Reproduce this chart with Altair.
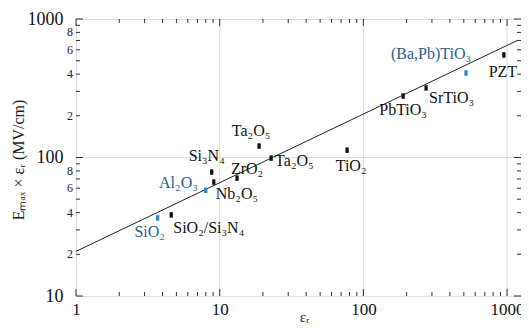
import altair as alt
import pandas as pd

# ---- data ----
materials = ["SiO₂", "SiO₂/Si₃N₄", "Al₂O₃", "Si₃N₄", "Nb₂O₅", "ZrO₂", "Ta₂O₅",
             "Ta₂O₅", "TiO₂", "PbTiO₃", "SrTiO₃", "(Ba,Pb)TiO₃", "PZT"]
eps_r = [3.7, 4.6, 8.0, 8.8, 9.1, 13.2, 18.8, 22.8, 77, 189, 273, 518, 950]
emax_eps = [36.6, 38.5, 58, 78.5, 66.5, 71, 121, 99, 113, 278, 318, 407, 550]
highlight = [True, False, True, False, False, False, False, False, False, False, False, True, False]

fit_x = [1, 1180]
fit_y = [21, 700]

x_major = [1, 10, 100, 1000]
x_minor = [2, 3, 4, 5, 6, 7, 8, 9, 20, 30, 40, 50, 60, 70, 80, 90,
           200, 300, 400, 500, 600, 700, 800, 900]
y_major = [10, 100, 1000]
y_minor = [20, 30, 40, 50, 60, 70, 80, 90, 200, 300, 400, 500, 600, 700, 800, 900]
y_minor_labelled = [20, 40, 60, 80, 200, 400, 600, 800]
y_minor_text = ["2", "4", "6", "8", "2", "4", "6", "8"]

# ---- styles ----
W, H = 445, 277
FONT = "Liberation Serif"
BLUE_TXT = "#1d5f8e"
BLUE_PT = "#2f86c6"
# label placement (dx, dy, align) per material, pixels
label_style = [
    (-8, 14, "center"), (2, 13, "left"), (-8, -7, "right"), (-5, -16, "center"),
    (2, 12, "left"), (10, -9, "center"), (-8, -15, "center"), (4, 3, "left"),
    (4, 16, "center"), (0, 14, "center"), (3, 10, "left"), (5, -19, "right"),
    (-1, 17, "center"),
]

xscale = alt.Scale(type="log", domain=[1, 1250], nice=False)
yscale = alt.Scale(type="log", domain=[10, 1000], nice=False)
xaxis = alt.Axis(values=x_major, labelFontSize=17, labelFont=FONT,
                 labelColor="#111", ticks=False, domain=False, grid=False,
                 labelFlush=False, labelOverlap=False, labelPadding=5,
                 title=None, format="d")
yaxis = alt.Axis(values=y_major, labelFontSize=18, labelFont=FONT,
                 labelColor="#111", ticks=False, domain=False, grid=False,
                 labelFlush=False, labelOverlap=False, labelPadding=13,
                 title=None, format="d")


def X():
    return alt.X("x:Q", scale=xscale, axis=xaxis)


def Y():
    return alt.Y("y:Q", scale=yscale, axis=yaxis)


pts = pd.DataFrame({"name": materials, "x": eps_r, "y": emax_eps,
                    "hl": highlight, "idx": list(range(len(materials)))})
fit = pd.DataFrame({"x": fit_x, "y": fit_y})

layers = []

# grid lines
grid_v = alt.Chart(pd.DataFrame({"x": x_major[1:]})).mark_rule(
    color="#dcdcdc", strokeWidth=1).encode(x=X(), y=alt.value(0), y2=alt.value(H))
grid_h = alt.Chart(pd.DataFrame({"y": [100]})).mark_rule(
    color="#dcdcdc", strokeWidth=1).encode(y=Y(), x=alt.value(0), x2=alt.value(W))
layers += [grid_v, grid_h]

# fit line
line = alt.Chart(fit).mark_line(color="#222", strokeWidth=1).encode(x=X(), y=Y())
layers.append(line)

# points
points = alt.Chart(pts).mark_point(
    shape="M-0.6,-1H0.6V1H-0.6Z", filled=True, size=30, opacity=1).encode(
    x=X(), y=Y(),
    color=alt.condition("datum.hl", alt.value(BLUE_PT), alt.value("#111")))
layers.append(points)

# point labels
for i, (dx, dy, al) in enumerate(label_style):
    col = BLUE_TXT if highlight[i] else "#111"
    t = alt.Chart(pts).transform_filter(f"datum.idx == {i}").mark_text(
        dx=dx, dy=dy, align=al, baseline="middle", font=FONT, fontSize=16,
        color=col).encode(x=X(), y=Y(), text="name:N")
    layers.append(t)


# inward ticks on all four sides
def xticks(vals, length, top):
    df = pd.DataFrame({"x": vals})
    if top:
        ys = (alt.value(0), alt.value(length))
    else:
        ys = (alt.value(H), alt.value(H - length))
    return alt.Chart(df).mark_rule(color="#333", strokeWidth=1).encode(
        x=X(), y=ys[0], y2=ys[1])


def yticks(vals, length, right):
    df = pd.DataFrame({"y": vals})
    if right:
        xs = (alt.value(W), alt.value(W - length))
    else:
        xs = (alt.value(0), alt.value(length))
    return alt.Chart(df).mark_rule(color="#333", strokeWidth=1).encode(
        y=Y(), x=xs[0], x2=xs[1])


for top in (False, True):
    layers.append(xticks(x_major, 7, top))
    layers.append(xticks(x_minor, 4, top))
for right in (False, True):
    layers.append(yticks(y_major, 7, right))
    layers.append(yticks(y_minor, 4, right))

# minor y labels
minor_lbl = alt.Chart(pd.DataFrame({"y": y_minor_labelled, "t": y_minor_text})).mark_text(
    align="right", baseline="middle", font=FONT, fontSize=12, color="#222", dx=-3).encode(
    y=Y(), x=alt.value(0), text="t:N")
layers.append(minor_lbl)

# axis titles
xtitle = alt.Chart(pd.DataFrame({"t": ["εᵣ"]})).mark_text(
    font=FONT, fontSize=15, color="#222", baseline="middle", align="center").encode(
    x=alt.value(W / 2 + 6), y=alt.value(H + 21), text="t:N")
ytitle = alt.Chart(pd.DataFrame({"t": ["Eₘₐₓ × εᵣ  (MV/cm)"]})).mark_text(
    font=FONT, fontSize=16, color="#222", baseline="middle", align="center",
    angle=270).encode(x=alt.value(-57), y=alt.value(141), text="t:N")
layers += [xtitle, ytitle]

chart = alt.layer(*layers).properties(
    width=W, height=H,
    autosize=alt.AutoSizeParams(type="none"),
    padding={"left": 68, "top": 11, "right": 0, "bottom": 31},
).configure_view(stroke="#333", strokeWidth=1).configure(background="white")

chart.save("out.html", embed_options={"renderer": "svg", "actions": False})
